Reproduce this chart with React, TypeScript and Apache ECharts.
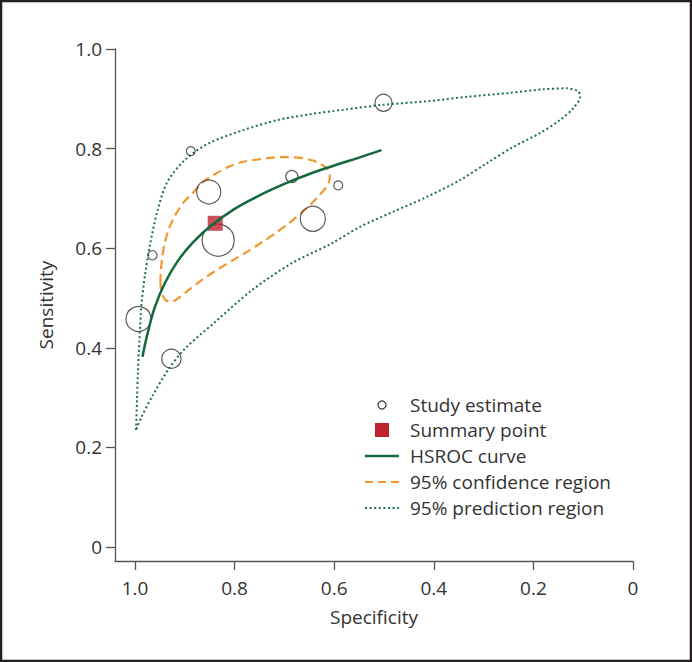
import React, { useEffect, useRef } from "react";
import * as echarts from "echarts";

// Study estimates: specificity, sensitivity, relative weight (circle size)
const studySpec = [0.501, 0.888, 0.852, 0.685, 0.592, 0.643, 0.833, 0.965, 0.993, 0.927];
const studySens = [0.892, 0.795, 0.713, 0.744, 0.726, 0.659, 0.616, 0.586, 0.458, 0.378];
const studyWeight = [0.53, 0.28, 0.75, 0.38, 0.28, 0.78, 1.0, 0.29, 0.78, 0.6];

// Summary point
const summarySpec = [0.839];
const summarySens = [0.65];

// HSROC curve
const hsrocSpec = [0.985, 0.975, 0.96, 0.94, 0.915, 0.885, 0.85, 0.8, 0.75, 0.7, 0.65, 0.6, 0.55, 0.505];
const hsrocSens = [0.382, 0.428, 0.482, 0.53, 0.573, 0.61, 0.643, 0.679, 0.706, 0.729, 0.749, 0.766, 0.782, 0.797];

// 95% confidence region (closed contour)
const confSpec = [0.949, 0.948, 0.945, 0.94, 0.932, 0.92, 0.904, 0.884, 0.863, 0.839, 0.813, 0.785, 0.755, 0.723, 0.693, 0.665, 0.643, 0.627, 0.614, 0.609, 0.61, 0.617, 0.631, 0.647, 0.667, 0.691, 0.717, 0.745, 0.773, 0.803, 0.833, 0.863, 0.89, 0.91, 0.926, 0.938, 0.945, 0.948];
const confSens = [0.53, 0.556, 0.584, 0.612, 0.639, 0.665, 0.69, 0.711, 0.733, 0.749, 0.763, 0.773, 0.778, 0.782, 0.783, 0.781, 0.776, 0.769, 0.759, 0.747, 0.735, 0.721, 0.705, 0.688, 0.67, 0.65, 0.631, 0.612, 0.594, 0.576, 0.558, 0.538, 0.518, 0.502, 0.493, 0.495, 0.506, 0.518];

// 95% prediction region (closed contour)
const predSpec = [0.998, 0.996, 0.994, 0.991, 0.987, 0.98, 0.97, 0.956, 0.935, 0.898, 0.851, 0.783, 0.715, 0.649, 0.582, 0.502, 0.414, 0.333, 0.247, 0.181, 0.133, 0.11, 0.106, 0.12, 0.147, 0.187, 0.241, 0.293, 0.347, 0.414, 0.482, 0.548, 0.608, 0.685, 0.765, 0.839, 0.9, 0.934, 0.964, 0.988];
const predSens = [0.235, 0.295, 0.355, 0.416, 0.486, 0.546, 0.606, 0.671, 0.733, 0.779, 0.811, 0.837, 0.857, 0.869, 0.878, 0.888, 0.895, 0.904, 0.912, 0.919, 0.921, 0.915, 0.904, 0.881, 0.857, 0.831, 0.803, 0.771, 0.737, 0.703, 0.673, 0.643, 0.608, 0.57, 0.516, 0.452, 0.398, 0.355, 0.305, 0.259];

// Tick labels
const tickValues = [0, 0.2, 0.4, 0.6, 0.8, 1.0];
const tickLabels = ["0", "0.2", "0.4", "0.6", "0.8", "1.0"];

const legendLabels = ["Study estimate", "Summary point", "HSROC curve", "95% confidence region", "95% prediction region"];

const FONT = "'Open Sans', 'Noto Sans', sans-serif";
const FS = 19;
const TEXT = "#333333";
const AXIS = "#555555";
const GREEN = "#14693c";
const DOT_GREEN = "#1f6e52";
const ORANGE = "#f0982f";
const RED = "#c1232f";

const zip = (a: number[], b: number[]) => a.map((v, i) => [v, b[i]]);
const closed = (a: number[], b: number[]) => {
  const p = zip(a, b);
  return [...p, p[0]];
};
const fmt = (v: number) => {
  const i = tickValues.findIndex((t) => Math.abs(t - v) < 1e-6);
  return i >= 0 ? tickLabels[i] : "";
};

export default function App() {
  const ref = useRef<HTMLDivElement>(null);
  useEffect(() => {
    document.body.style.margin = "0";
    if (!ref.current) return;
    const chart = echarts.init(ref.current, null, { renderer: "svg" });
    const axisCommon = {
      type: "value" as const,
      splitLine: { show: false },
      axisLine: { show: true, onZero: false, lineStyle: { color: AXIS, width: 1.3 } },
      axisTick: { show: true, length: 9, customValues: tickValues, lineStyle: { color: AXIS, width: 1.3 } },
      nameLocation: "middle" as const,
      nameTextStyle: { fontFamily: FONT, fontSize: FS, color: TEXT },
    };
    const legendY = [405, 430, 456, 482, 508];
    const graphic: any[] = [
      { type: "rect", shape: { x: 1, y: 1, width: 690, height: 660 }, style: { fill: "none", stroke: "#231f20", lineWidth: 2.5 }, silent: true },
      { type: "circle", shape: { cx: 382, cy: legendY[0], r: 4 }, style: { fill: "none", stroke: "#333", lineWidth: 1.2 } },
      { type: "rect", shape: { x: 375, y: legendY[1] - 7, width: 14, height: 14 }, style: { fill: RED } },
      { type: "line", shape: { x1: 365, y1: legendY[2], x2: 399, y2: legendY[2] }, style: { stroke: GREEN, lineWidth: 2.5 } },
      { type: "line", shape: { x1: 365, y1: legendY[3], x2: 399, y2: legendY[3] }, style: { stroke: ORANGE, lineWidth: 2.2, lineDash: [8, 5] } },
      { type: "line", shape: { x1: 365, y1: legendY[4], x2: 399, y2: legendY[4] }, style: { stroke: DOT_GREEN, lineWidth: 2, lineDash: [2, 2.6] } },
      ...legendLabels.map((t, i) => ({
        type: "text",
        x: 410,
        y: legendY[i],
        style: { text: t, fill: TEXT, font: `${FS}px ${FONT}`, verticalAlign: "middle", align: "left" },
      })),
    ];
    chart.setOption({
      animation: false,
      grid: { left: 115, right: 59, top: 49, bottom: 101, containLabel: false },
      xAxis: {
        ...axisCommon,
        inverse: true,
        min: 0,
        max: 1.0402,
        name: "Specificity",
        nameGap: 46,
        axisLabel: { customValues: tickValues, formatter: fmt, margin: 17, fontFamily: FONT, fontSize: FS, color: TEXT },
      },
      yAxis: {
        ...axisCommon,
        min: -0.0281,
        max: 1,
        name: "Sensitivity",
        nameGap: 60,
        axisLabel: { customValues: tickValues, formatter: fmt, margin: 13, fontFamily: FONT, fontSize: FS, color: TEXT },
      },
      graphic,
      series: [
        {
          name: "95% prediction region",
          type: "line",
          data: closed(predSpec, predSens),
          showSymbol: false,
          smooth: 0.3,
          lineStyle: { color: DOT_GREEN, width: 2, type: [2, 2.6], cap: "butt" },
          z: 2,
        },
        {
          name: "95% confidence region",
          type: "line",
          data: closed(confSpec, confSens),
          showSymbol: false,
          smooth: 0.3,
          lineStyle: { color: ORANGE, width: 2.2, type: [9, 5] },
          z: 3,
        },
        {
          name: "Study estimate",
          type: "scatter",
          data: studySpec.map((s, i) => [s, studySens[i], studyWeight[i]]),
          symbol: "circle",
          symbolSize: (v: number[]) => v[2] * 32,
          itemStyle: { color: "rgba(0,0,0,0)", borderColor: "#333", borderWidth: 1.2 },
          z: 4,
        },
        {
          name: "Summary point",
          type: "scatter",
          data: zip(summarySpec, summarySens),
          symbol: "rect",
          symbolSize: 15,
          itemStyle: { color: RED },
          z: 5,
        },
        {
          name: "HSROC curve",
          type: "line",
          data: zip(hsrocSpec, hsrocSens),
          showSymbol: false,
          smooth: 0.4,
          lineStyle: { color: GREEN, width: 2.5 },
          z: 6,
        },
      ],
    });
    return () => chart.dispose();
  }, []);
  return <div ref={ref} style={{ width: 692, height: 662 }} />;
}
